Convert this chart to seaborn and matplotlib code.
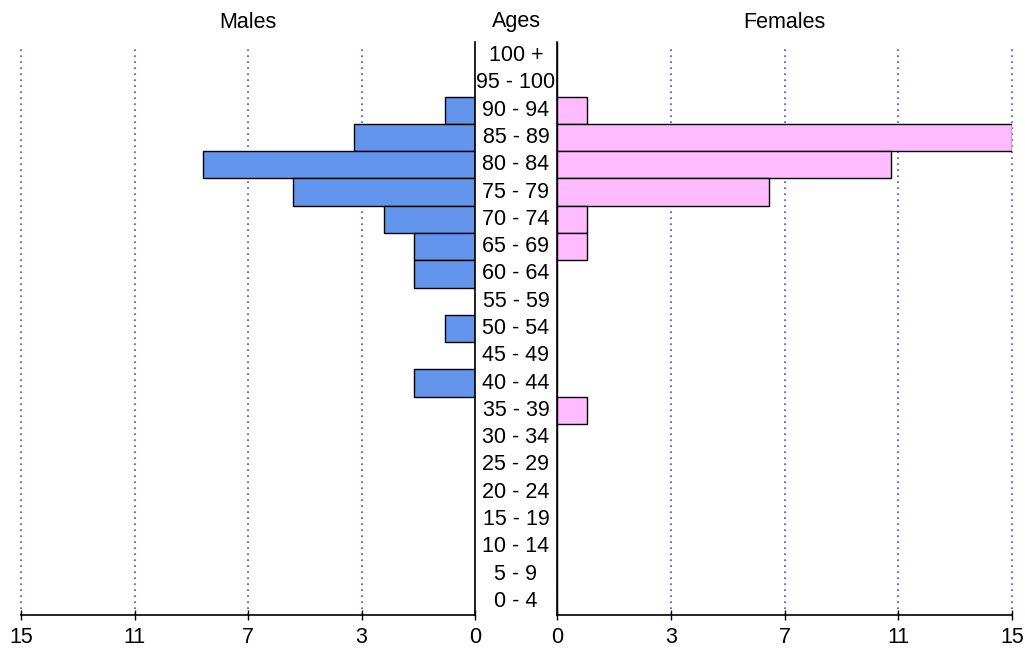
import numpy as np
import pandas as pd
import matplotlib
matplotlib.use("Agg")
import matplotlib.pyplot as plt
import matplotlib.transforms as mtransforms
import seaborn as sns

# age groups, top to bottom
ages = ['100 +', '95 - 100', '90 - 94', '85 - 89', '80 - 84', '75 - 79', '70 - 74',
        '65 - 69', '60 - 64', '55 - 59', '50 - 54', '45 - 49', '40 - 44', '35 - 39',
        '30 - 34', '25 - 29', '20 - 24', '15 - 19', '10 - 14', '5 - 9', '0 - 4']
males = [0, 0, 1, 4, 9, 6, 3, 2, 2, 0, 1, 0, 2, 0, 0, 0, 0, 0, 0, 0, 0]
females = [0, 0, 1, 15, 11, 7, 1, 1, 0, 0, 0, 0, 0, 1, 0, 0, 0, 0, 0, 0, 0]
tick_vals = [0, 3.75, 7.5, 11.25, 15]
tick_labels = ['0', '3', '7', '11', '15']

df = pd.DataFrame({'Age': ages, 'Males': males, 'Females': females})

sns.set_theme(style="white")
plt.rcParams['font.family'] = ['Liberation Sans', 'DejaVu Sans']
plt.rcParams['text.color'] = 'black'

FS = 15.5

fig = plt.figure(figsize=(10.25, 6.5), dpi=100)
ax_m = fig.add_axes([21 / 1025, 1 - 615 / 650, 454 / 1025, 573 / 650])
ax_f = fig.add_axes([557 / 1025, 1 - 615 / 650, 455 / 1025, 573 / 650])

sns.barplot(data=df, x='Males', y='Age', order=ages, color='#6495ed', width=1,
            edgecolor='black', linewidth=1, saturation=1, ax=ax_m)
sns.barplot(data=df, x='Females', y='Age', order=ages, color='#ffbbff', width=1,
            edgecolor='black', linewidth=1, saturation=1, ax=ax_f)

for ax, side in [(ax_m, 'right'), (ax_f, 'left')]:
    ax.set_xlim(0, 15)
    ax.set_ylim(len(ages) - 0.5, -0.5)
    ax.set_xticks(tick_vals)
    ax.set_xticklabels(tick_labels, fontsize=FS)
    ax.set_yticks([])
    ax.set_xlabel('')
    ax.set_ylabel('')
    for s in ['top', 'left', 'right']:
        ax.spines[s].set_visible(False)
    ax.spines[side].set_visible(True)
    for s in ['bottom', side]:
        ax.spines[s].set_color('black')
        ax.spines[s].set_linewidth(1.2)
    ax.tick_params(axis='x', direction='inout', length=7, width=1, color='black',
                   bottom=True, pad=5, labelcolor='black')
    for v in tick_vals[1:]:
        ax.axvline(v, ymax=0.995, color='#3a4cf5', linestyle=(0, (1, 2.6)),
                   linewidth=1.2, zorder=0, clip_on=False)

ax_m.invert_xaxis()

# centre age labels
trans = mtransforms.blended_transform_factory(fig.transFigure, ax_f.transData)
for i, a in enumerate(ages):
    ax_f.text(516 / 1025, i, a, transform=trans, ha='center', va='center',
              fontsize=FS, color='black', clip_on=False)

ty = 1 - 22 / 650
fig.text(248 / 1025, ty, 'Males', ha='center', va='center', fontsize=FS, color='black')
fig.text(516 / 1025, ty, 'Ages', ha='center', va='center', fontsize=FS, color='black')
fig.text(784 / 1025, ty, 'Females', ha='center', va='center', fontsize=FS, color='black')

fig.savefig('out.png', dpi=100, facecolor='white')
